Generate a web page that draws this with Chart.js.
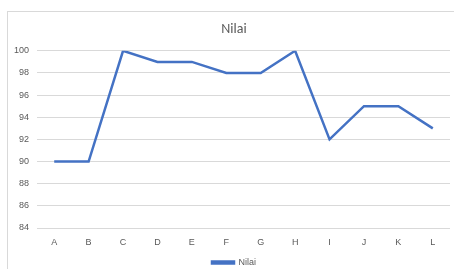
<!DOCTYPE html>
<html>
<head>
<meta charset="utf-8">
<script src="https://cdn.jsdelivr.net/npm/chart.js@4.4.0/dist/chart.umd.min.js"></script>
<style>
  html, body { margin: 0; padding: 0; background: #fff; overflow: hidden; }
  #wrap { position: relative; width: 454px; height: 269px; overflow: hidden; }
  #frame { position: absolute; left: 7px; top: 11px; width: 460px; height: 270px; border: 1px solid #d9d9d9; box-sizing: border-box; pointer-events: none; }
  canvas { position: absolute; left: 0; top: 0; }
</style>
</head>
<body>
<div id="wrap">
  <!-- the chart frame runs past the right edge of the picture, so the canvas is wider than the window -->
  <canvas id="chart" width="472" height="269"></canvas>
  <div id="frame"></div>
</div>
<script>
// Data
const categories = ['A', 'B', 'C', 'D', 'E', 'F', 'G', 'H', 'I', 'J', 'K', 'L'];
const nilai = [90, 90, 100, 99, 99, 98, 98, 100, 92, 95, 95, 93];
const yMin = 84;
const yMax = 100;
const yStep = 2;

const textColor = '#595959';
const gridColor = '#d9d9d9';

new Chart(document.getElementById('chart').getContext('2d'), {
    type: 'line',
    data: {
        labels: categories,
        datasets: [{
            label: 'Nilai',
            data: nilai,
            borderColor: '#4472C4',
            backgroundColor: '#4472C4',
            borderWidth: 2.5,
            pointRadius: 0,
            tension: 0,
            fill: false
        }]
    },
    options: {
        responsive: false,
        animation: false,
        layout: { padding: { left: 0, right: 4, top: 0, bottom: -8 } },
        plugins: {
            title: {
                display: true,
                text: 'Nilai',
                color: textColor,
                font: { family: 'Calibri, Carlito, "Liberation Sans", sans-serif', size: 14, weight: 'normal' },
                padding: { top: 21, bottom: 13 }
            },
            legend: {
                position: 'bottom',
                labels: {
                    color: textColor,
                    font: { family: '"Liberation Sans", sans-serif', size: 9 },
                    boxWidth: 22,
                    boxHeight: 2,
                    padding: 4
                }
            },
            tooltip: { enabled: false }
        },
        scales: {
            x: {
                offset: true,
                afterFit: scale => { scale.height = 26; },
                grid: { display: false, drawTicks: false },
                border: { display: false },
                ticks: {
                    color: textColor,
                    font: { family: '"Liberation Sans", sans-serif', size: 9 },
                    padding: 9
                }
            },
            y: {
                min: yMin,
                max: yMax,
                afterFit: scale => { scale.width = 37; },
                grid: { color: gridColor, drawTicks: false },
                border: { display: false },
                ticks: {
                    stepSize: yStep,
                    color: textColor,
                    font: { family: '"Liberation Sans", sans-serif', size: 9 },
                    padding: 8
                }
            },
            // empty spacer on the right so the plot stops where the picture is cropped
            spacer: {
                type: 'linear',
                position: 'right',
                afterFit: scale => { scale.width = 18; },
                grid: { display: false, drawTicks: false },
                border: { display: false },
                ticks: { display: false }
            }
        }
    }
});
</script>
</body>
</html>
